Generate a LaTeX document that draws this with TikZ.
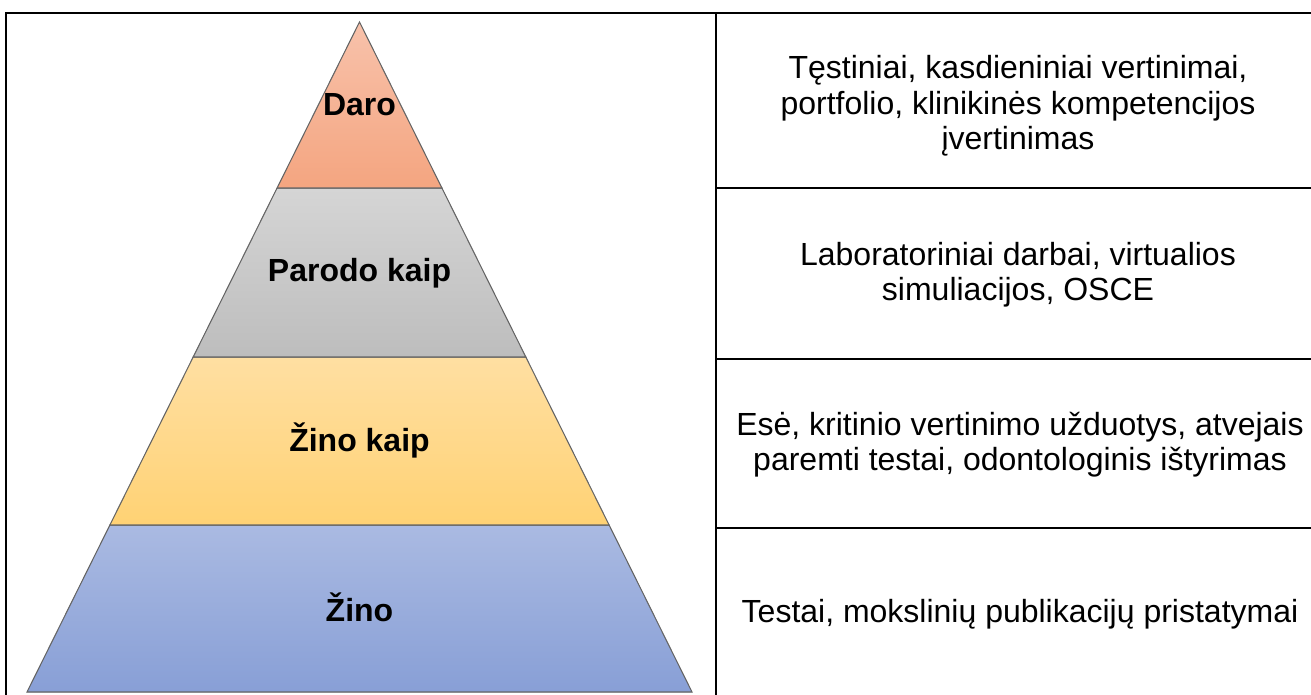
\documentclass[tikz,border=0pt]{standalone}
\usepackage{fontspec}
\setmainfont{Liberation Sans}

\definecolor{darotop}{HTML}{F8C2AB}
\definecolor{darobot}{HTML}{F4A580}
\definecolor{parodotop}{HTML}{D5D5D5}
\definecolor{parodobot}{HTML}{BDBDBD}
\definecolor{zinokaiptop}{HTML}{FFDFA2}
\definecolor{zinokaipbot}{HTML}{FFD274}
\definecolor{zinotop}{HTML}{AABAE2}
\definecolor{zinobot}{HTML}{889FD6}

\begin{document}
\begin{tikzpicture}[x=0.75pt,y=-0.75pt,
  band/.style={draw=black!60,line width=0.8pt},
  level/.style={font=\bfseries\fontsize{24}{26}\selectfont},
  assess/.style={align=center,font=\fontsize{24}{26.5}\selectfont},
  rule/.style={line width=2.2pt}]
  \useasboundingbox (0,0) rectangle (1311,695);

  % pyramid
  \filldraw[band,top color=zinotop,bottom color=zinobot]
    (109.9,525) -- (609.1,525) -- (692,692) -- (27,692) -- cycle;
  \filldraw[band,top color=zinokaiptop,bottom color=zinokaipbot]
    (193.2,357) -- (525.8,357) -- (609.1,525) -- (109.9,525) -- cycle;
  \filldraw[band,top color=parodotop,bottom color=parodobot]
    (277.1,188) -- (441.9,188) -- (525.8,357) -- (193.2,357) -- cycle;
  \filldraw[band,top color=darotop,bottom color=darobot]
    (359.5,22) -- (441.9,188) -- (277.1,188) -- cycle;

  \node[level] (daro) at (359.5,105) {Daro};
  \node[level] (parodo) at (359.5,273) {Parodo kaip};
  \node[level] (zinokaip) at (359.5,440) {Žino kaip};
  \node[level] (zino) at (359.5,607) {Žino};

  % table
  \draw[rule] (6,700) -- (6,13) -- (1320,13);
  \draw[rule] (716,13) -- (716,700);
  \draw[rule] (716,188) -- (1320,188);
  \draw[rule] (716,359) -- (1320,359);
  \draw[rule] (716,528) -- (1320,528);

  \node[assess] (darotxt) at (1018,106)
    {Tęstiniai, kasdieniniai vertinimai,\\portfolio, klinikinės kompetencijos\\įvertinimas};
  \node[assess] (parodotxt) at (1018,275)
    {Laboratoriniai darbai, virtualios\\simuliacijos, OSCE};
  \node[assess] (zinokaiptxt) at (1020,445)
    {Esė, kritinio vertinimo užduotys, atvejais\\paremti testai, odontologinis ištyrimas};
  \node[assess] (zinotxt) at (1020,614)
    {Testai, mokslinių publikacijų pristatymai};
\end{tikzpicture}
\end{document}
